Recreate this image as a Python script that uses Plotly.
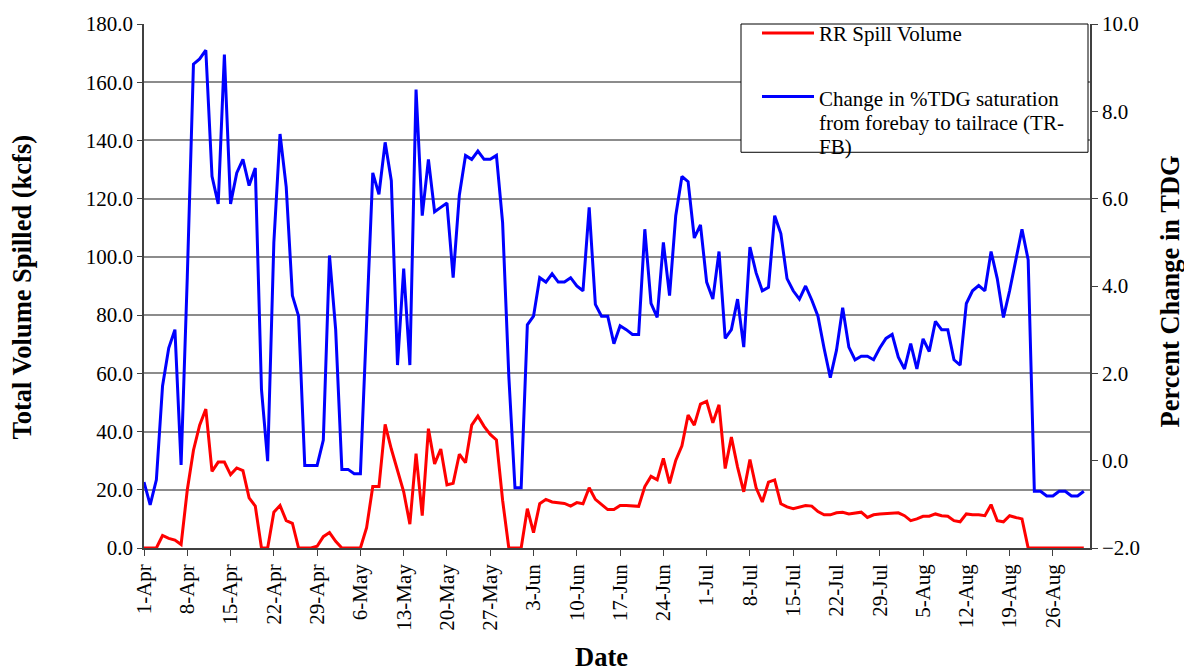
import pandas as pd
import plotly.graph_objects as go

# Daily series, 1-Apr through 31-Aug
dates = pd.date_range("2024-04-01", "2024-08-31", freq="D")

# RR spill volume (kcfs), left axis
spill_kcfs = [
    0.0, 0.0, 0.0, 4.3, 3.3, 2.7, 1.2, 19.9, 33.6, 42.2,
    47.7, 26.3, 29.5, 29.5, 25.2, 27.5, 26.6, 17.2, 14.4, 0.0,
    0.0, 12.3, 14.6, 9.4, 8.5, 0.0, 0.0, 0.0, 0.6, 3.9,
    5.3, 2.3, 0.0, 0.0, 0.0, 0.0, 7.0, 21.1, 21.1, 42.5,
    34.0, 26.3, 19.3, 8.2, 32.4, 11.1, 41.0, 28.9, 34.0, 21.7,
    22.2, 32.2, 29.3, 42.2, 45.3, 41.8, 39.0, 37.1, 16.4, 0.0,
    0.0, 0.0, 13.5, 5.3, 15.2, 16.7, 15.8, 15.6, 15.3, 14.4,
    15.6, 15.2, 20.7, 16.7, 14.9, 13.2, 13.2, 14.6, 14.6, 14.4,
    14.3, 21.1, 24.6, 23.4, 30.8, 22.2, 30.1, 35.1, 45.7, 42.2,
    49.4, 50.4, 43.0, 49.2, 27.3, 38.1, 27.8, 19.3, 30.4, 20.7,
    15.8, 22.6, 23.4, 15.2, 14.1, 13.5, 14.1, 14.6, 14.4, 12.5,
    11.4, 11.4, 12.1, 12.3, 11.7, 12.1, 12.3, 10.5, 11.4, 11.7,
    11.9, 11.9, 12.1, 11.1, 9.4, 10.0, 10.9, 10.9, 11.7, 11.1,
    10.9, 9.4, 9.0, 11.7, 11.4, 11.4, 11.1, 14.9, 9.4, 9.0,
    11.1, 10.5, 10.0, 0.0, 0.0, 0.0, 0.0, 0.0, 0.0, 0.0,
    0.0, 0.0, 0.0,
]

# Change in %TDG saturation, tailrace minus forebay, right axis
tdg_change = [
    -0.49, -1.01, -0.44, 1.71, 2.58, 3.00, -0.10, 4.20, 9.08, 9.20,
    9.40, 6.51, 5.88, 9.30, 5.88, 6.59, 6.90, 6.30, 6.70, 1.63,
    -0.01, 4.99, 7.48, 6.27, 3.78, 3.31, -0.11, -0.11, -0.11, 0.47,
    4.70, 3.00, -0.20, -0.20, -0.30, -0.30, 3.00, 6.59, 6.10, 7.29,
    6.41, 2.19, 4.40, 2.19, 8.50, 5.61, 6.90, 5.70, 5.80, 5.90,
    4.19, 6.08, 6.99, 6.90, 7.09, 6.90, 6.90, 6.99, 5.45, 1.94,
    -0.62, -0.62, 3.11, 3.31, 4.19, 4.09, 4.28, 4.09, 4.09, 4.19,
    4.00, 3.89, 5.80, 3.58, 3.31, 3.31, 2.68, 3.09, 3.00, 2.89,
    2.89, 5.30, 3.60, 3.28, 5.00, 3.78, 5.61, 6.51, 6.39, 5.10,
    5.40, 4.09, 3.70, 4.79, 2.80, 3.00, 3.70, 2.60, 4.89, 4.30,
    3.89, 3.97, 5.61, 5.20, 4.17, 3.89, 3.70, 4.00, 3.68, 3.31,
    2.57, 1.90, 2.53, 3.50, 2.60, 2.31, 2.39, 2.39, 2.31, 2.58,
    2.80, 2.89, 2.37, 2.10, 2.68, 2.10, 2.79, 2.50, 3.19, 3.00,
    3.00, 2.31, 2.19, 3.60, 3.89, 4.01, 3.89, 4.79, 4.17, 3.28,
    3.89, 4.60, 5.30, 4.60, -0.70, -0.70, -0.81, -0.81, -0.70, -0.70,
    -0.81, -0.81, -0.70,
]

spill_name = "RR Spill Volume"
tdg_name_lines = ["Change in %TDG saturation", "from forebay to tailrace (TR-", "FB)"]

FONT = "Times New Roman, Liberation Serif, serif"
RED = "#FF0000"
BLUE = "#0000FF"
GRID = "#8c8c8c"
AXIS = "#404040"

# plot-area geometry in pixels
W, H = 1184, 671
L, R, T, B = 144, 94, 21, 123
PW, PH = W - L - R, H - T - B


def px_x(px):
    return (px - L) / PW


def px_y(py):
    return (H - B - py) / PH


fig = go.Figure()
fig.add_trace(go.Scatter(
    x=dates, y=spill_kcfs, name=spill_name, mode="lines",
    line=dict(color=RED, width=3), yaxis="y",
))
fig.add_trace(go.Scatter(
    x=dates, y=tdg_change, name=" ".join(tdg_name_lines), mode="lines",
    line=dict(color=BLUE, width=3), yaxis="y2",
))

tick_font = dict(family=FONT, size=21, color="black")

fig.update_layout(
    width=W, height=H,
    margin=dict(l=L, r=R, t=T, b=B),
    paper_bgcolor="white", plot_bgcolor="white",
    showlegend=False,
    font=dict(family=FONT, color="black"),
    xaxis=dict(
        type="date",
        range=["2024-04-01", "2024-09-01"],
        tick0="2024-04-01", dtick=7 * 86400000,
        tickformat="%-d-%b", tickangle=-90,
        tickfont=tick_font,
        showgrid=False, zeroline=False,
        showline=True, linecolor=AXIS, linewidth=1.5,
        ticks="outside", ticklen=6, tickcolor=AXIS,
    ),
    yaxis=dict(
        range=[0, 180], dtick=20, tickformat=".1f",
        tickfont=tick_font,
        showgrid=True, gridcolor=GRID, gridwidth=1.5,
        zeroline=False,
        showline=True, linecolor=AXIS, linewidth=1.5,
        ticks="outside", ticklen=5, tickcolor=AXIS,
    ),
    yaxis2=dict(
        range=[-2, 10], dtick=2, tickformat=".1f",
        overlaying="y", side="right",
        tickfont=tick_font,
        showgrid=False, zeroline=False,
        showline=True, linecolor=AXIS, linewidth=1.5,
        ticks="outside", ticklen=6, tickcolor=AXIS,
    ),
)

title_font = dict(family=FONT, size=26.5, color="black")
annotations = [
    dict(text="<b>Total Volume Spilled (kcfs)</b>", textangle=-90,
         x=px_x(22), y=px_y(286), xref="paper", yref="paper",
         showarrow=False, font=title_font, xanchor="center", yanchor="middle"),
    dict(text="<b>Percent Change in TDG</b>", textangle=-90,
         x=px_x(1170), y=px_y(290), xref="paper", yref="paper",
         showarrow=False, font=title_font, xanchor="center", yanchor="middle"),
    dict(text="<b>Date</b>",
         x=px_x(601), y=px_y(658), xref="paper", yref="paper",
         showarrow=False, font=title_font, xanchor="center", yanchor="middle"),
]

# legend box with line samples and labels
legend_font = dict(family=FONT, size=21, color="black")
shapes = [
    dict(type="rect", xref="paper", yref="paper",
         x0=px_x(741), x1=px_x(1088), y0=px_y(150), y1=px_y(21),
         line=dict(color="black", width=1), fillcolor="white", layer="above"),
    dict(type="line", xref="paper", yref="paper",
         x0=px_x(762), x1=px_x(814), y0=px_y(30), y1=px_y(30),
         line=dict(color=RED, width=3), layer="above"),
    dict(type="line", xref="paper", yref="paper",
         x0=px_x(762), x1=px_x(814), y0=px_y(94), y1=px_y(94),
         line=dict(color=BLUE, width=3), layer="above"),
]
annotations.append(dict(
    text=spill_name, x=px_x(817), y=px_y(31), xref="paper", yref="paper",
    showarrow=False, font=legend_font, xanchor="left", yanchor="middle"))
for i, line_text in enumerate(tdg_name_lines):
    annotations.append(dict(
        text=line_text, x=px_x(817), y=px_y(96 + 24.5 * i),
        xref="paper", yref="paper", showarrow=False, font=legend_font,
        xanchor="left", yanchor="middle"))

fig.update_layout(annotations=annotations, shapes=shapes)

fig.write_html("out.html")
